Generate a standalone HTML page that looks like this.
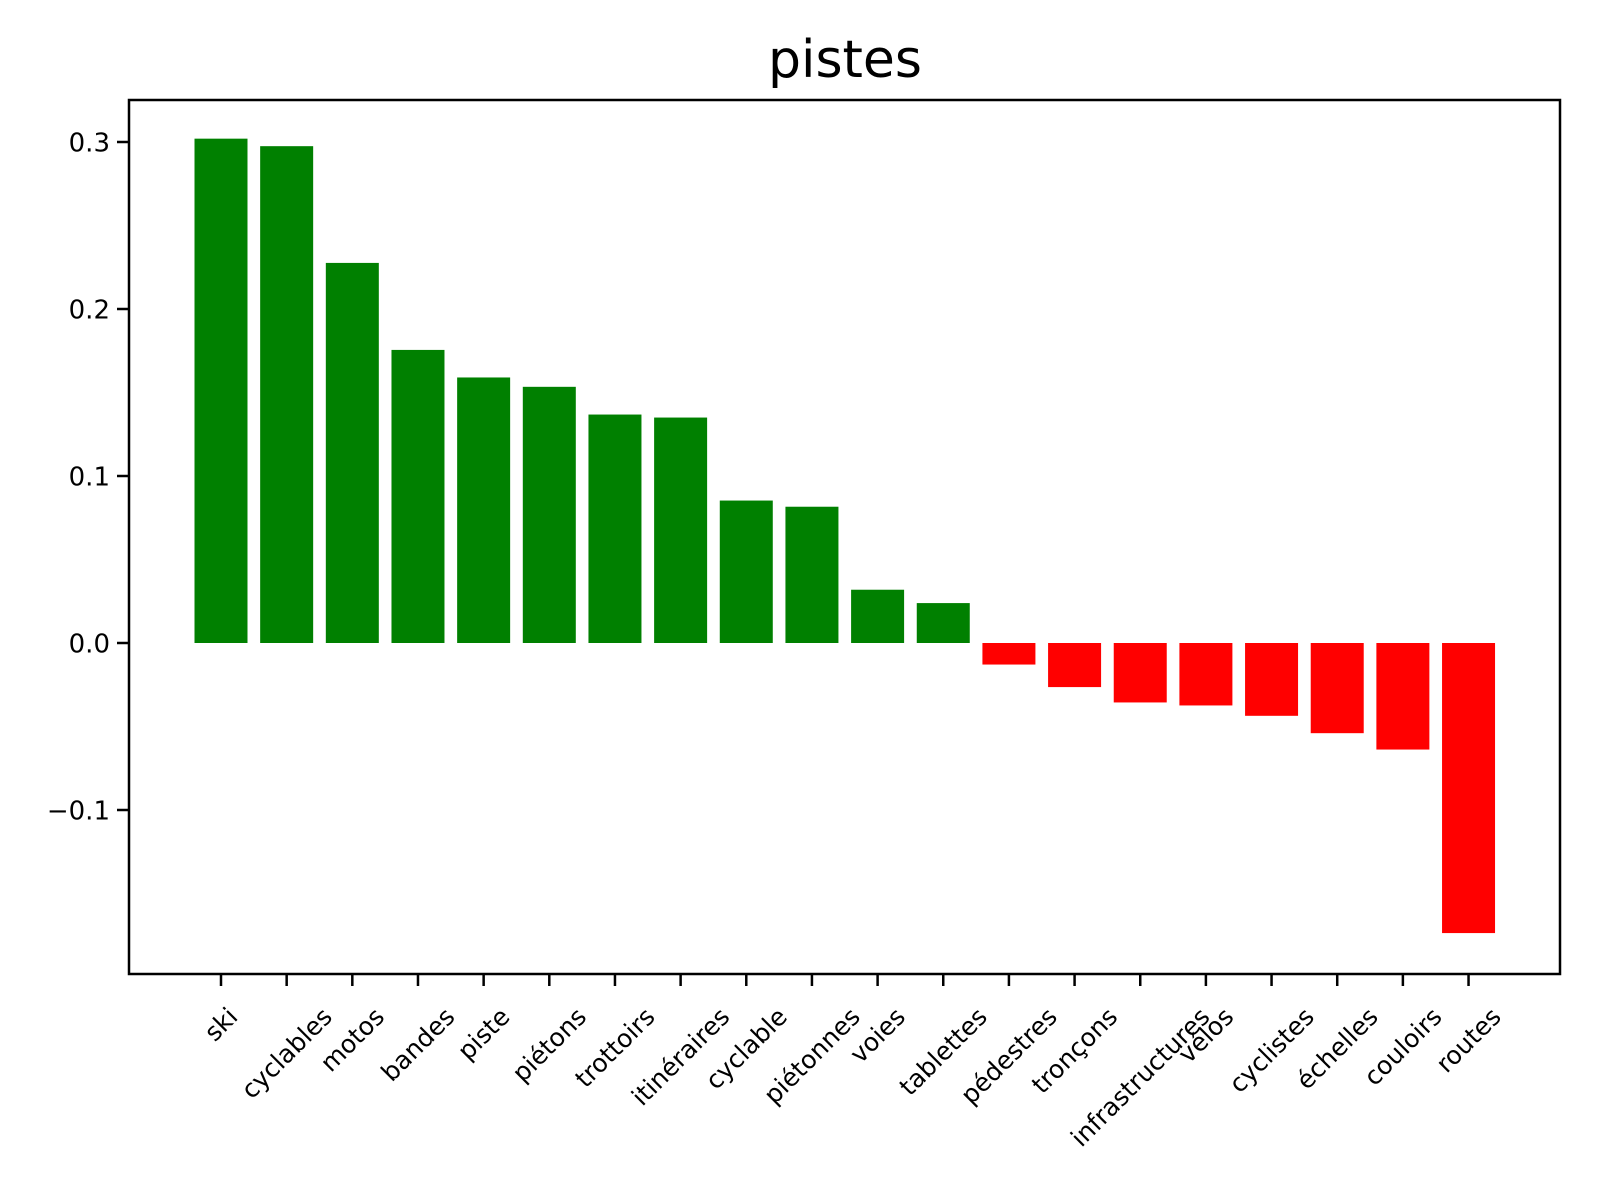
<!DOCTYPE html>
<html><head><meta charset="utf-8"><style>
html,body{margin:0;padding:0;background:#fff;}
svg{display:block;font-family:"DejaVu Sans","Liberation Sans",sans-serif;}
</style></head><body>
<svg id="chart" width="1600" height="1200" viewBox="0 0 1600 1200">
<rect width="1600" height="1200" fill="#fff"/>
<text x="845" y="77" font-size="52" text-anchor="middle" fill="#000">pistes</text>
<g id="bars"></g>
<g id="yaxis"></g>
<g id="xaxis"></g>
<rect x="129" y="100" width="1431" height="874" fill="none" stroke="#000" stroke-width="2.5"/>
</svg>
<script>
const categories = ["ski","cyclables","motos","bandes","piste","piétons","trottoirs","itinéraires","cyclable","piétonnes","voies","tablettes","pédestres","tronçons","infrastructures","vélos","cyclistes","échelles","couloirs","routes"];
const values = [0.302,0.2975,0.2276,0.1755,0.159,0.1534,0.1368,0.135,0.0853,0.0816,0.0319,0.0239,-0.0129,-0.0264,-0.0356,-0.0374,-0.0436,-0.054,-0.0638,-0.1737];
const yTicks = [-0.1,0.0,0.1,0.2,0.3];
const yTickLabels = ["\u22120.1","0.0","0.1","0.2","0.3"];

(function(){
const NS="http://www.w3.org/2000/svg";
const plotLeft=129, plotBottom=974;
const x0=221, step=65.66, barW=53;
const fs=25;
function xPos(i){return x0+i*step;}
function yPos(v){return 643-v*1670;}

const barsG=document.getElementById('bars');
values.forEach((v,i)=>{
  const r=document.createElementNS(NS,'rect');
  const y1=yPos(Math.max(v,0)), y2=yPos(Math.min(v,0));
  r.setAttribute('x',xPos(i)-barW/2);
  r.setAttribute('y',y1);
  r.setAttribute('width',barW);
  r.setAttribute('height',y2-y1);
  r.setAttribute('fill',v>=0?'#008000':'#ff0000');
  
  
  barsG.appendChild(r);
});

const yG=document.getElementById('yaxis');
yTicks.forEach((t,i)=>{
  const y=yPos(t);
  const l=document.createElementNS(NS,'line');
  l.setAttribute('x1',plotLeft-12);l.setAttribute('x2',plotLeft);
  l.setAttribute('y1',y);l.setAttribute('y2',y);
  l.setAttribute('stroke','#000');l.setAttribute('stroke-width','2.5');
  
  
  yG.appendChild(l);
  const tx=document.createElementNS(NS,'text');
  tx.setAttribute('x',plotLeft-19);tx.setAttribute('y',y+9.5);
  tx.setAttribute('font-size','26');tx.setAttribute('text-anchor','end');
  tx.textContent=yTickLabels[i];
  
  
  yG.appendChild(tx);
});

const xG=document.getElementById('xaxis');
categories.forEach((c,i)=>{
  const x=xPos(i);
  const l=document.createElementNS(NS,'line');
  l.setAttribute('x1',x);l.setAttribute('x2',x);
  l.setAttribute('y1',plotBottom);l.setAttribute('y2',plotBottom+12);
  l.setAttribute('stroke','#000');l.setAttribute('stroke-width','2.5');
  
  
  xG.appendChild(l);
  const tx=document.createElementNS(NS,'text');
  tx.setAttribute('font-size',fs);
  tx.setAttribute('text-anchor','middle');
  tx.setAttribute('dominant-baseline','central');
  tx.textContent=c;
  
  
  xG.appendChild(tx);
  let w=0;
  try{w=tx.getComputedTextLength();}catch(e){w=0;}
  if(!w) w=c.length*fs*0.56;
  const H=(w+fs*1.16)/Math.SQRT2;
  const cy=1002+H/2;
  tx.setAttribute('transform','translate('+x+','+cy+') rotate(-45)');
});
})();
</script>
</body></html>
